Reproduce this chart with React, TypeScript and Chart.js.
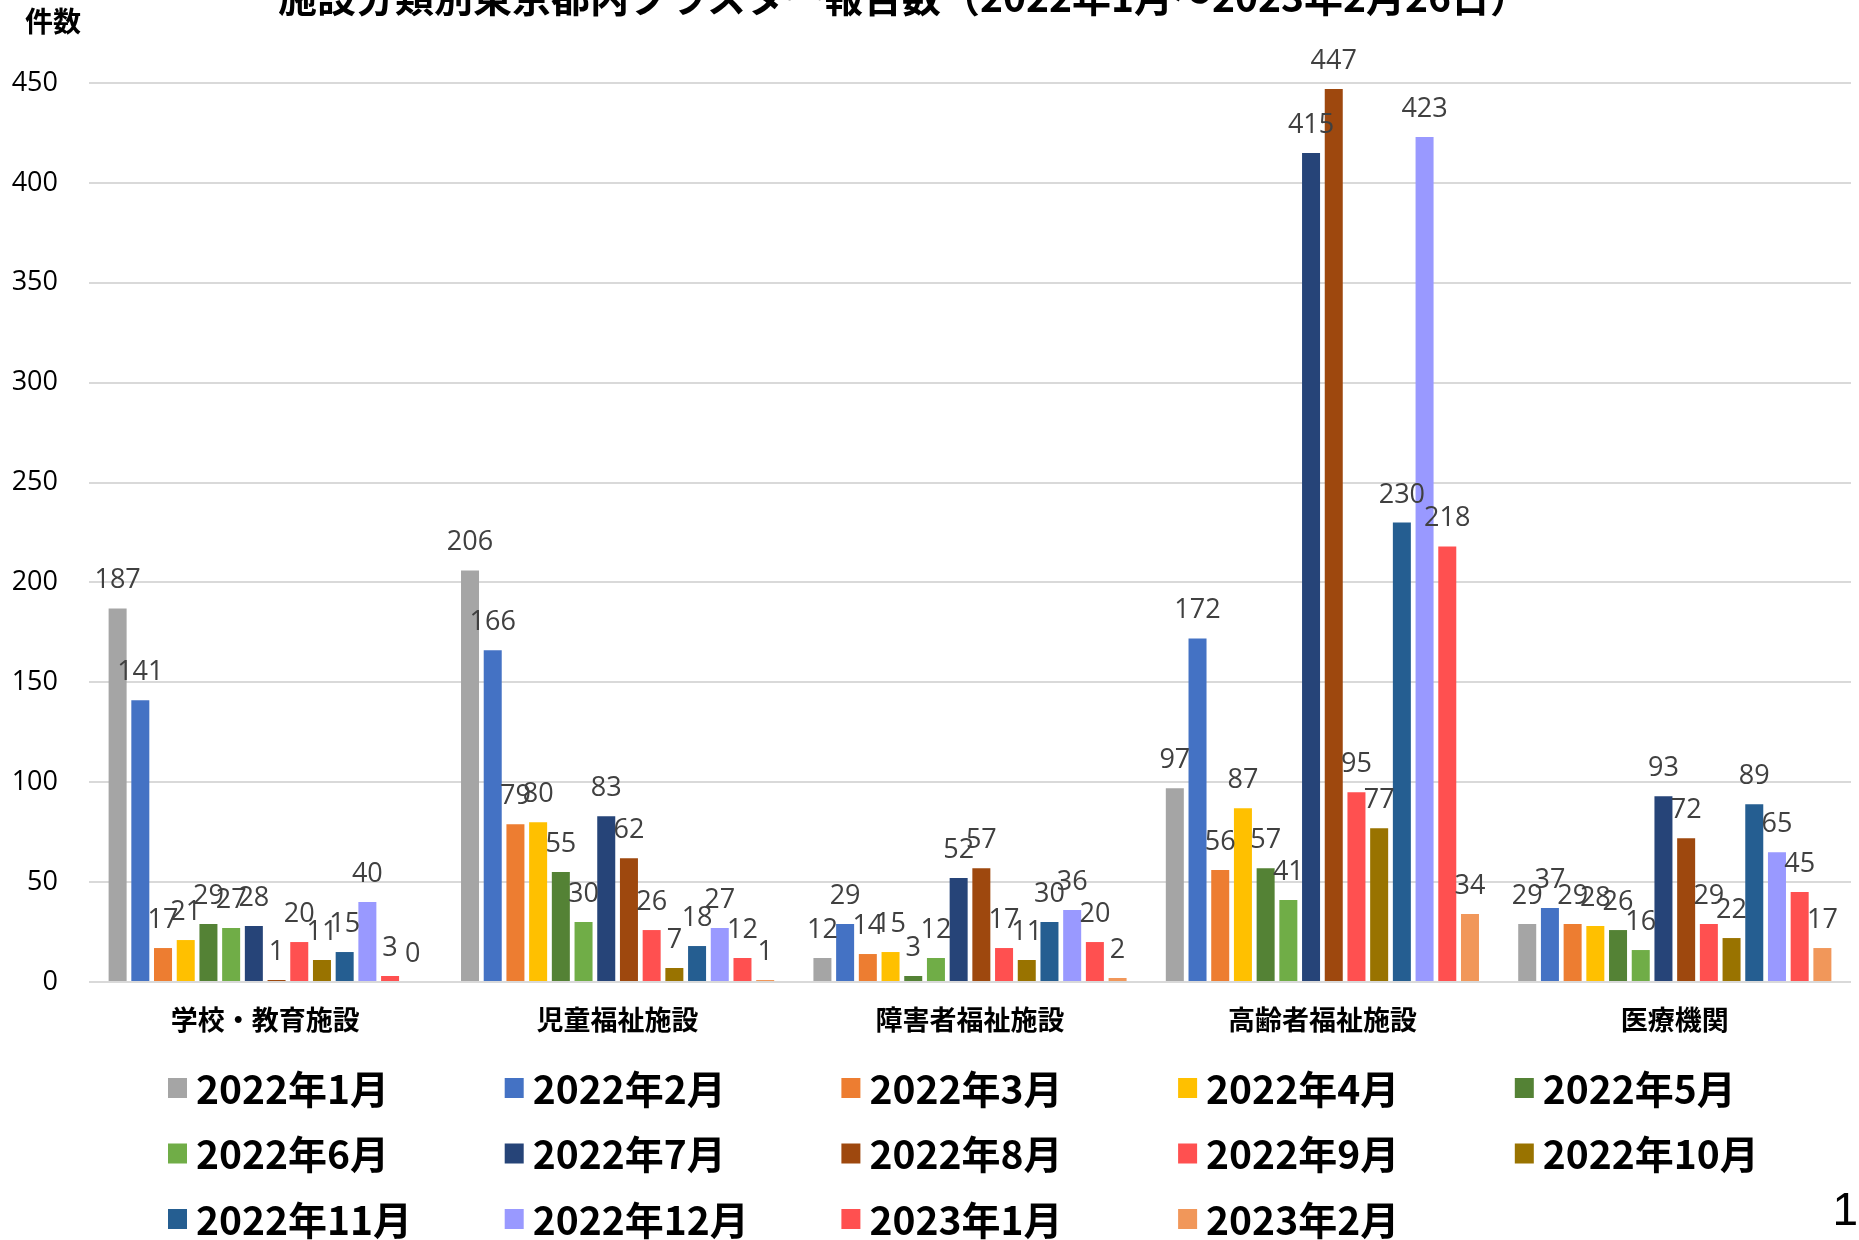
import React, { useEffect, useRef } from "react";
import { Chart, registerables } from "chart.js";

Chart.register(...registerables);

const titleText = "施設分類別東京都内クラスター報告数（2022年1月～2023年2月26日）";
const yAxisTitle = "件数";
const pageNumber = "1";

const categories = ["学校・教育施設", "児童福祉施設", "障害者福祉施設", "高齢者福祉施設", "医療機関"];

const seriesLabels = [
  "2022年1月", "2022年2月", "2022年3月", "2022年4月", "2022年5月",
  "2022年6月", "2022年7月", "2022年8月", "2022年9月", "2022年10月",
  "2022年11月", "2022年12月", "2023年1月", "2023年2月",
];

const m2022_01 = [187, 206, 12, 97, 29];
const m2022_02 = [141, 166, 29, 172, 37];
const m2022_03 = [17, 79, 14, 56, 29];
const m2022_04 = [21, 80, 15, 87, 28];
const m2022_05 = [29, 55, 3, 57, 26];
const m2022_06 = [27, 30, 12, 41, 16];
const m2022_07 = [28, 83, 52, 415, 93];
const m2022_08 = [1, 62, 57, 447, 72];
const m2022_09 = [20, 26, 17, 95, 29];
const m2022_10 = [11, 7, 11, 77, 22];
const m2022_11 = [15, 18, 30, 230, 89];
const m2022_12 = [40, 27, 36, 423, 65];
const m2023_01 = [3, 12, 20, 218, 45];
const m2023_02 = [0, 1, 2, 34, 17];

const seriesValues = [
  m2022_01, m2022_02, m2022_03, m2022_04, m2022_05, m2022_06, m2022_07,
  m2022_08, m2022_09, m2022_10, m2022_11, m2022_12, m2023_01, m2023_02,
];

const seriesColors = [
  "#A5A5A5", "#4472C4", "#ED7D31", "#FFC000", "#548235",
  "#70AD47", "#264478", "#9E480E", "#FF5050", "#997300",
  "#255E91", "#9999FF", "#FF5050", "#F1975A",
];

const yMin = 0;
const yMax = 450;
const yStep = 50;

const CJK = '"Noto Sans CJK JP", "Noto Sans", sans-serif';
const NUM = '"Open Sans", "Noto Sans", sans-serif';

const overlayPlugin = {
  id: "overlay",
  afterDatasetsDraw(chart: any) {
    const ctx = chart.ctx;
    ctx.save();
    ctx.font = `27px ${NUM}`;
    ctx.fillStyle = "#404040";
    ctx.textAlign = "center";
    ctx.textBaseline = "alphabetic";
    chart.data.datasets.forEach((ds: any, di: number) => {
      const meta = chart.getDatasetMeta(di);
      meta.data.forEach((bar: any, i: number) => {
        ctx.fillText(String(ds.data[i]), bar.x, bar.y - 20);
      });
    });
    ctx.restore();
  },
  afterDraw(chart: any) {
    const ctx = chart.ctx;
    ctx.save();
    // title (partly cut at top)
    ctx.font = `bold 39px ${CJK}`;
    ctx.fillStyle = "#000000";
    ctx.textAlign = "left";
    ctx.textBaseline = "alphabetic";
    ctx.fillText(titleText, 278, 12);
    // y-axis title
    ctx.font = `bold 28px ${CJK}`;
    ctx.textBaseline = "middle";
    ctx.fillText(yAxisTitle, 25, 21);
    // legend
    ctx.font = `bold 39px ${CJK}`;
    chart.data.datasets.forEach((ds: any, i: number) => {
      const col = i % 5;
      const row = Math.floor(i / 5);
      const bx = 168 + col * 336.7;
      const cy = 1088 + row * 65.5;
      ctx.fillStyle = ds.backgroundColor;
      ctx.fillRect(bx, cy - 10, 19, 20);
      ctx.fillStyle = "#000000";
      ctx.textAlign = "left";
      ctx.textBaseline = "middle";
      ctx.fillText(ds.label, bx + 28, cy + 1);
    });
    // page number
    ctx.font = `46px "Liberation Sans", Arial, sans-serif`;
    ctx.textAlign = "right";
    ctx.textBaseline = "alphabetic";
    ctx.fillText(pageNumber, 1858, 1225);
    ctx.restore();
  },
};

export default function App() {
  const ref = useRef<HTMLCanvasElement | null>(null);
  useEffect(() => {
    if (!ref.current) return;
    const chart = new Chart(ref.current, {
      type: "bar",
      data: {
        labels: categories,
        datasets: seriesLabels.map((label, i) => ({
          label,
          data: seriesValues[i],
          backgroundColor: seriesColors[i],
          borderWidth: 0,
          categoryPercentage: 0.902,
          barPercentage: 0.793,
        })),
      },
      options: {
        responsive: false,
        devicePixelRatio: 1,
        animation: false,
        events: [],
        layout: { padding: { top: 83, right: 8, left: 0, bottom: 0 } },
        plugins: {
          legend: { display: false },
          title: { display: false },
          tooltip: { enabled: false },
        },
        scales: {
          x: {
            grid: { display: false, drawTicks: false },
            border: { display: false },
            ticks: {
              color: "#000000",
              font: { family: CJK, size: 27, weight: "bold" },
              padding: 22,
              maxRotation: 0,
              autoSkip: false,
            },
            afterFit(scale: any) {
              scale.height = 258;
            },
          },
          y: {
            min: yMin,
            max: yMax,
            grid: { color: "#D9D9D9", lineWidth: 2, drawTicks: false },
            border: { display: false },
            ticks: {
              stepSize: yStep,
              color: "#000000",
              font: { family: NUM, size: 27 },
              padding: 31,
            },
            afterFit(scale: any) {
              scale.width = 89;
            },
          },
        },
      },
      plugins: [overlayPlugin],
    });
    return () => chart.destroy();
  }, []);
  return (
    <div style={{ position: "absolute", left: 0, top: 0, width: 1859, height: 1240, background: "#fff" }}>
      <canvas ref={ref} width={1859} height={1240} style={{ display: "block" }} />
    </div>
  );
}
